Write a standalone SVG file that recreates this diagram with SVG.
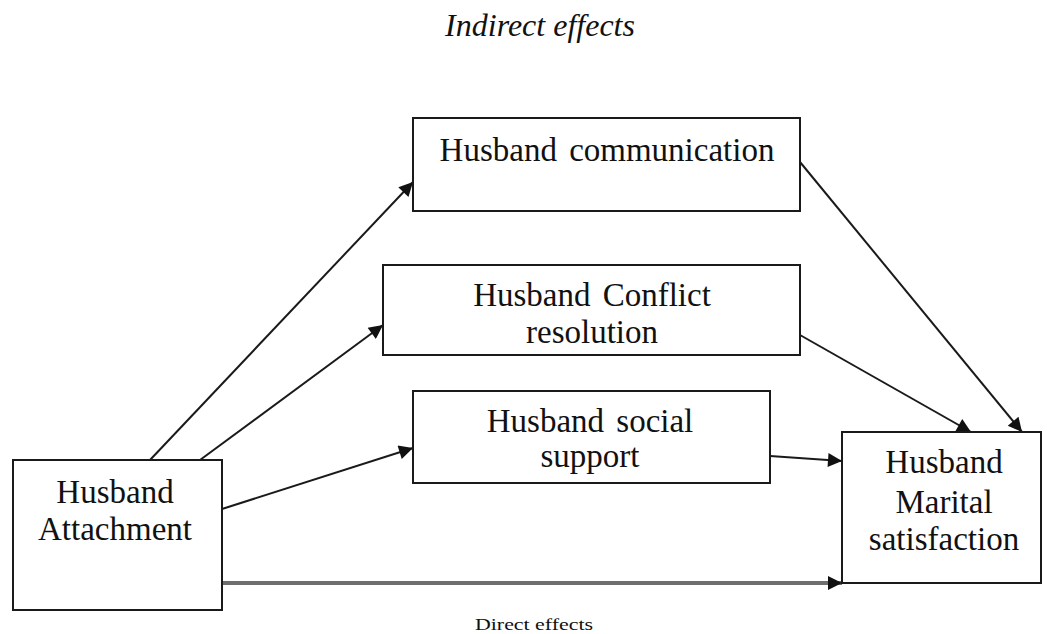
<svg xmlns="http://www.w3.org/2000/svg" width="1047" height="634" viewBox="0 0 1047 634">
  <style>
    .box { fill: #ffffff; stroke: #1a1a1a; stroke-width: 2; }
    .lbl { font-family: "Liberation Serif", "Times New Roman", serif; font-size: 33px; fill: #111111; text-anchor: middle; word-spacing: 4px; }
    .edge { stroke: #1a1a1a; stroke-width: 2; fill: none; marker-end: url(#arrow); }
    .direct { stroke: #6e6e6e; stroke-width: 4; fill: none; marker-end: url(#arrow); }
    .title { font-family: "Liberation Serif", "Times New Roman", serif; font-size: 32px; font-style: italic; fill: #111111; text-anchor: middle; }
    .note { font-family: "Liberation Serif", "Times New Roman", serif; font-size: 16px; fill: #111111; text-anchor: middle; }
  </style>
  <defs>
    <marker id="arrow" viewBox="0 0 10 10" refX="10" refY="5" markerWidth="18" markerHeight="14" markerUnits="userSpaceOnUse" orient="auto">
      <path d="M0,0 L10,5 L0,10 Z" fill="#111111"/>
    </marker>
  </defs>
  <rect width="1047" height="634" fill="#ffffff"/>

  <text class="title" x="540" y="36">Indirect effects</text>

  <g id="connectors">
    <line class="edge" x1="150" y1="460" x2="413" y2="182"/>
    <line class="edge" x1="200" y1="460" x2="383" y2="325"/>
    <line class="edge" x1="222" y1="509" x2="413" y2="448"/>
    <line class="edge" x1="770" y1="456" x2="842" y2="461"/>
    <line class="edge" x1="800" y1="335" x2="971" y2="432"/>
    <line class="edge" x1="800" y1="162" x2="1022" y2="432"/>
    <line class="direct" x1="222" y1="583" x2="842" y2="583"/>
  </g>

  <g id="attachment">
    <rect class="box" x="13" y="460" width="209" height="150"/>
    <text class="lbl" x="115" y="503">Husband</text>
    <text class="lbl" x="115" y="540">Attachment</text>
  </g>

  <g id="communication">
    <rect class="box" x="413" y="118" width="387" height="93"/>
    <text class="lbl" x="607" y="161">Husband communication</text>
  </g>

  <g id="conflict">
    <rect class="box" x="383" y="265" width="417" height="90"/>
    <text class="lbl" x="592" y="306">Husband Conflict</text>
    <text class="lbl" x="592" y="343">resolution</text>
  </g>

  <g id="social">
    <rect class="box" x="413" y="391" width="357" height="92"/>
    <text class="lbl" x="590" y="432">Husband social</text>
    <text class="lbl" x="590" y="467">support</text>
  </g>

  <g id="marital">
    <rect class="box" x="842" y="432" width="199" height="151"/>
    <text class="lbl" x="944" y="473">Husband</text>
    <text class="lbl" x="944" y="513">Marital</text>
    <text class="lbl" x="944" y="550">satisfaction</text>
  </g>

  <text class="note" x="534" y="630" textLength="118" lengthAdjust="spacingAndGlyphs">Direct effects</text>
</svg>
